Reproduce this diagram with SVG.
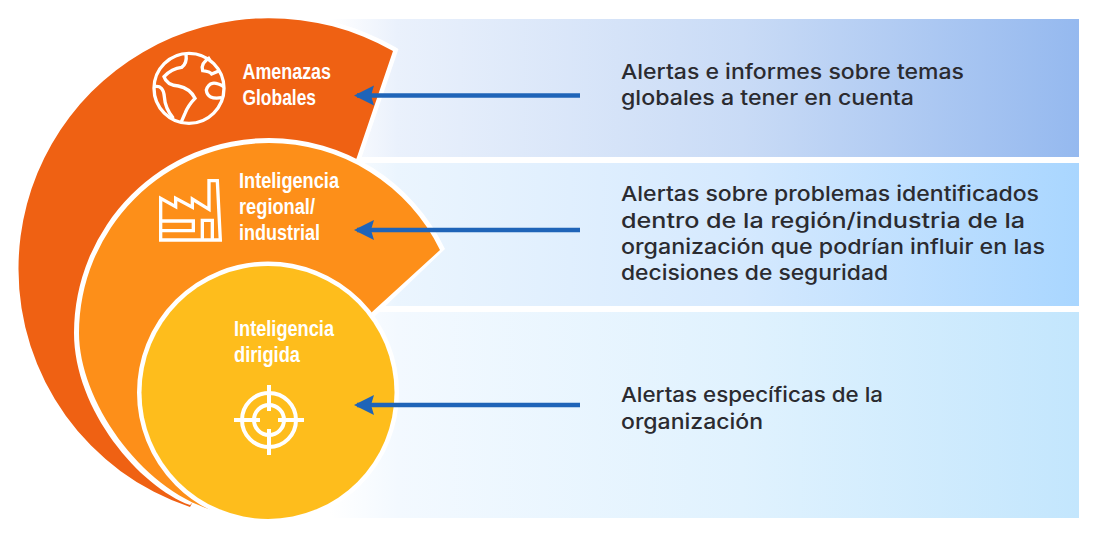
<svg xmlns="http://www.w3.org/2000/svg" width="1094" height="539" viewBox="0 0 1094 539">
<style>
.lb{font-family:"Liberation Sans",Arial,sans-serif;font-weight:700;font-size:22px;fill:#fff}
.tx{font-family:"Inter","Noto Sans",sans-serif;font-weight:450;font-size:20.6px;fill:#2b2b30}
.ic{fill:none;stroke:#fff;stroke-width:10;stroke-linejoin:miter}
.cn{stroke:#1f64b8;stroke-width:4.5;fill:none;marker-end:url(#ah)}
</style>
<defs>
<linearGradient id="g1" x1="0" x2="1" y1="0" y2="0"><stop offset="0" stop-color="#fff"/><stop offset=".09" stop-color="#eaf1fc"/><stop offset=".55" stop-color="#c9dbf6"/><stop offset="1" stop-color="#95b9ef"/></linearGradient>
<linearGradient id="g2" x1="0" x2="1" y1="0" y2="0"><stop offset="0" stop-color="#fff"/><stop offset=".09" stop-color="#ebf5fe"/><stop offset=".55" stop-color="#d5e9fe"/><stop offset="1" stop-color="#a9d6ff"/></linearGradient>
<linearGradient id="g3" x1="0" x2="1" y1="0" y2="0"><stop offset="0" stop-color="#fff"/><stop offset=".09" stop-color="#f3f9ff"/><stop offset=".55" stop-color="#e0f2fe"/><stop offset="1" stop-color="#c3e6fd"/></linearGradient>
<marker id="ah" markerUnits="userSpaceOnUse" markerWidth="22" markerHeight="22" refX="17" refY="10" orient="auto"><path d="M0 0L20 10L0 20L3 10Z" fill="#1f64b8"/></marker>
</defs>
<rect width="1094" height="539" fill="#fff"/>
<g id="panels">
<rect x="330" y="19" width="749" height="138" fill="url(#g1)"/>
<rect x="330" y="163" width="749" height="143" fill="url(#g2)"/>
<rect x="330" y="312" width="749" height="206" fill="url(#g3)"/>
</g>
<g id="node-global">
<path d="M190 507A250.500 250.500 0 0 1 18.500 269A250.500 250.500 0 0 1 393 51L357 157L300 300Z" fill="#ef6113" stroke="#fff" stroke-width="9" paint-order="stroke"/>
<g class="ic" transform="translate(130 30) scale(.3333)">
<circle cx="177" cy="175" r="105"/>
<path d="M168 72Q172 100 155 112Q125 115 102 140Q110 165 145 168Q180 175 195 205Q175 225 165 250L153 278"/>
<path d="M74 170Q100 165 103 200Q105 235 130 265"/>
<path d="M240 82Q210 100 218 122Q240 125 245 132L268 122"/>
<path d="M281 170Q240 145 229 180Q232 210 275 203"/>
</g>
<text class="lb" x="242.500" y="79" textLength="88.500" lengthAdjust="spacingAndGlyphs">Amenazas</text>
<text class="lb" x="242.500" y="105" textLength="73.500" lengthAdjust="spacingAndGlyphs">Globales</text>
</g>
<g id="node-regional">
<path d="M190 505C140 487 74 410 74 333A195 195 0 0 1 269 138A195 195 0 0 1 445 249L375 316L300 400Z" fill="#fff"/>
<path d="M212 510C140 488 79 400 79 333A190 190 0 0 1 269 143A190 190 0 0 1 440 250L372 312L300 400Z" fill="#fd8f19"/>
<g class="ic" transform="translate(130 30) scale(.3333)">
<path d="M92 630V505L137 530V505L187 532V507L237 538V452H262L271 630Z"/>
<path d="M92 573H190V602H92"/>
<path d="M217 630V571H247V630"/>
</g>
<text class="lb" x="239" y="188" textLength="100" lengthAdjust="spacingAndGlyphs">Inteligencia</text>
<text class="lb" x="239" y="214" textLength="76" lengthAdjust="spacingAndGlyphs">regional/</text>
<text class="lb" x="239" y="240" textLength="81" lengthAdjust="spacingAndGlyphs">industrial</text>
</g>
<g id="node-dirigida">
<circle cx="268" cy="392.500" r="126.500" fill="#febd1c" stroke="#fff" stroke-width="9" paint-order="stroke"/>
<text class="lb" x="234" y="336" textLength="100" lengthAdjust="spacingAndGlyphs">Inteligencia</text>
<text class="lb" x="234" y="362" textLength="66" lengthAdjust="spacingAndGlyphs">dirigida</text>
<g class="ic" style="stroke-width:4">
<circle cx="269" cy="420" r="27"/>
<circle cx="269" cy="420" r="15"/>
<path d="M269 385V411M269 429V455M234 420H260M278 420H304"/>
</g>
</g>
<g id="connectors">
<path class="cn" d="M580 95.500H357"/>
<path class="cn" d="M580 230H357"/>
<path class="cn" d="M580 405H357"/>
</g>
<g id="text-right">
<text class="tx" x="621" y="79" textLength="343" lengthAdjust="spacingAndGlyphs">Alertas e informes sobre temas</text>
<text class="tx" x="621" y="105" textLength="293" lengthAdjust="spacingAndGlyphs">globales a tener en cuenta</text>
<text class="tx" x="621" y="201" textLength="418" lengthAdjust="spacingAndGlyphs">Alertas sobre problemas identificados</text>
<text class="tx" x="621" y="228" textLength="404" lengthAdjust="spacingAndGlyphs">dentro de la región/industria de la</text>
<text class="tx" x="621" y="254" textLength="424" lengthAdjust="spacingAndGlyphs">organización que podrían influir en las</text>
<text class="tx" x="621" y="280" textLength="267" lengthAdjust="spacingAndGlyphs">decisiones de seguridad</text>
<text class="tx" x="621" y="402" textLength="262" lengthAdjust="spacingAndGlyphs">Alertas específicas de la</text>
<text class="tx" x="621" y="429" textLength="142" lengthAdjust="spacingAndGlyphs">organización</text>
</g>
</svg>
